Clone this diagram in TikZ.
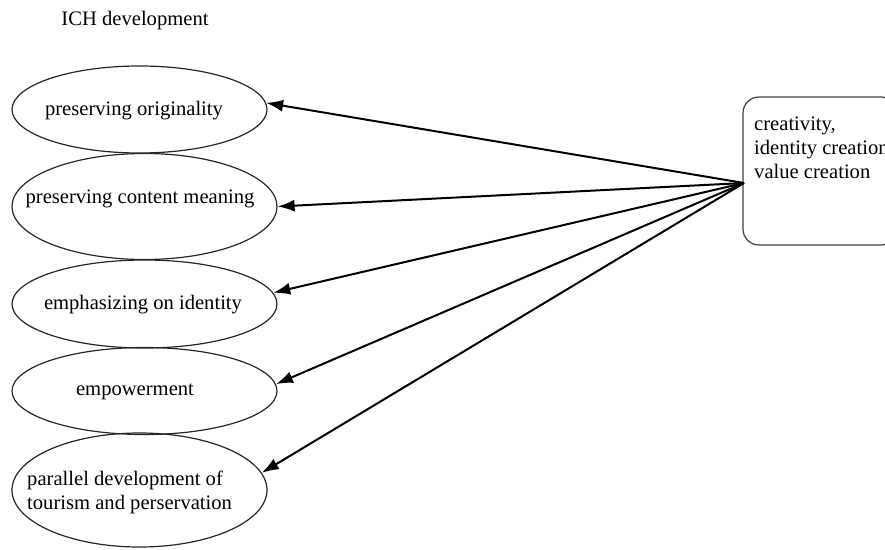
\documentclass[tikz,border=0pt]{standalone}
\usepackage{fontspec}
\setmainfont{Liberation Serif}
\usetikzlibrary{shapes.geometric,arrows.meta}
\begin{document}
\begin{tikzpicture}[x=1pt,y=-1pt,
  every node/.style={font=\fontsize{20.6}{24}\selectfont},
  oval/.style={draw=black!85, line width=1.2pt, ellipse, inner sep=0pt},
  lbl/.style={inner sep=0pt, align=left},
  arr/.style={line width=2pt, -{Latex[length=17pt,width=12pt]}},
  rbox/.style={draw=black!75, line width=1.2pt, rounded corners=16pt, inner sep=0pt}]
\useasboundingbox (0,0) rectangle (885,549);
\clip (0,0) rectangle (885,549);
\node[lbl] (title) at (135,21) {ICH development};
\node[oval, minimum width=255pt, minimum height=87pt] (e1) at (139.5,109.5) {};
\node[oval, minimum width=265pt, minimum height=106pt] (e2) at (144.5,206.5) {};
\node[oval, minimum width=265pt, minimum height=88pt] (e3) at (144.5,304) {};
\node[oval, minimum width=265pt, minimum height=87pt] (e4) at (144.5,391) {};
\node[oval, minimum width=255pt, minimum height=114pt] (e5) at (139.5,490) {};
\node[lbl] (t1) at (134,111) {preserving originality};
\node[lbl] (t2) at (140,199) {preserving content meaning};
\node[lbl] (t3) at (143,305) {emphasizing on identity};
\node[lbl] (t4) at (135,392) {empowerment};
\node[lbl, anchor=west] (t5) at (27,492) {parallel development of\\tourism and perservation};
\node[rbox, minimum width=154pt, minimum height=148pt] (box) at (820,171) {};
\node[lbl, anchor=north west] (bt) at (754,117) {creativity,\\identity creation\\value creation};
\coordinate (src) at (744,183);
\draw[arr] (src) -- (e1.3);
\draw[arr] (src) -- (e2.east);
\draw[arr] (src) -- (e3.5);
\draw[arr] (src) -- (e4.3);
\draw[arr] (src) -- (e5.8);
\end{tikzpicture}
\end{document}
